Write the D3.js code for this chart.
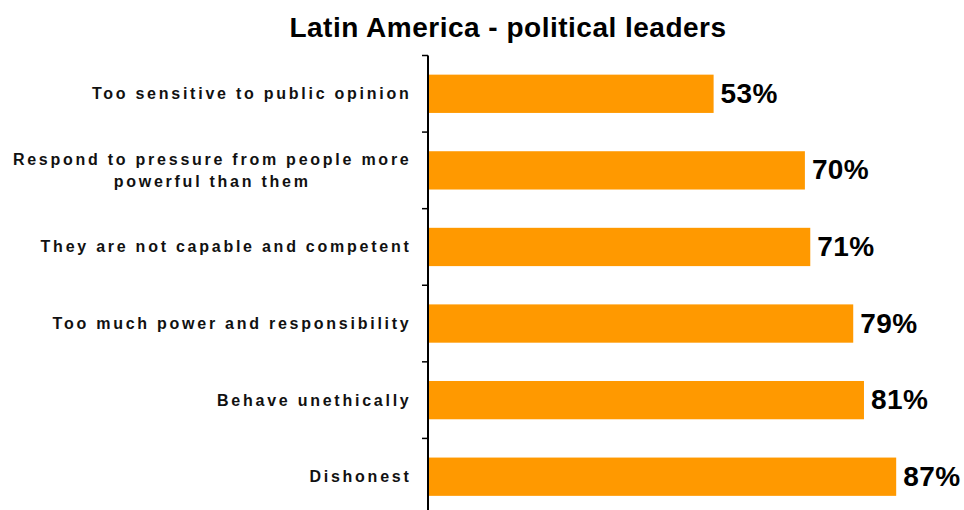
<!DOCTYPE html>
<html>
<head>
<meta charset="utf-8">
<script src="https://cdn.jsdelivr.net/npm/d3@7"></script>
<style>
  html, body { margin: 0; padding: 0; background: #fff; }
  svg { display: block; }
</style>
</head>
<body>
<div id="chart"></div>
<script>
const title = "Latin America - political leaders";
const categories = [
  "Too sensitive to public opinion",
  "Respond to pressure from people more|powerful than them",
  "They are not capable and competent",
  "Too much power and responsibility",
  "Behave unethically",
  "Dishonest"
];
const values = [53, 70, 71, 79, 81, 87];

const W = 964, H = 510;
const svg = d3.select("#chart").append("svg").attr("width", W).attr("height", H);

const x = d3.scaleLinear().domain([0, 100]).range([429, 966]);
const y = d3.scaleBand().domain(categories).range([55.5, 515]).paddingInner(0.5).paddingOuter(0.25);

const FONT = "Liberation Sans, Arial, Helvetica, sans-serif";

// title
svg.append("text")
  .attr("x", 508).attr("y", 37)
  .attr("text-anchor", "middle")
  .attr("font-family", FONT)
  .attr("font-weight", "bold")
  .attr("font-size", 28)
  .attr("letter-spacing", 0.5)
  .attr("fill", "#000")
  .text(title);

// bars
svg.append("g").selectAll("rect").data(categories).join("rect")
  .attr("x", x(0))
  .attr("y", d => y(d))
  .attr("width", (d, i) => x(values[i]) - x(0))
  .attr("height", y.bandwidth())
  .attr("fill", "#FF9900");

// value labels
svg.append("g").selectAll("text").data(categories).join("text")
  .attr("x", (d, i) => x(values[i]) + 7)
  .attr("y", d => y(d) + y.bandwidth() / 2 + 9)
  .attr("font-family", FONT)
  .attr("font-weight", "bold")
  .attr("font-size", 28)
  .attr("letter-spacing", 0.4)
  .attr("fill", "#000")
  .text((d, i) => values[i] + "%");

// axis line and ticks
const axisX = 428;
const step = y.step();
const gap = step - y.bandwidth();
const bounds = categories.map(d => y(d) - gap / 2);
bounds.push(y(categories[categories.length - 1]) + y.bandwidth() + gap / 2);
const ax = svg.append("g");
ax.append("line")
  .attr("x1", axisX).attr("x2", axisX)
  .attr("y1", bounds[0]).attr("y2", bounds[bounds.length - 1])
  .attr("stroke", "#000").attr("stroke-width", 2);
ax.selectAll("line.tick").data(bounds).join("line")
  .attr("class", "tick")
  .attr("x1", axisX - 6).attr("x2", axisX)
  .attr("y1", d => d).attr("y2", d => d)
  .attr("stroke", "#000").attr("stroke-width", 1.5);

// category labels
const lab = svg.append("g");
const LFS = 16, LLS = 2.75, RX = 411.5;
categories.forEach(d => {
  const lines = d.split("|");
  const cy = y(d) + y.bandwidth() / 2;
  const lh = 22;
  const t = lab.append("text")
    .attr("font-family", FONT)
    .attr("font-weight", "bold")
    .attr("font-size", LFS)
    .attr("letter-spacing", LLS)
    .attr("fill", "#111");
  if (lines.length === 1) {
    t.attr("x", RX).attr("y", cy + 5.5).attr("text-anchor", "end").text(lines[0]);
  } else {
    const tmp = lab.append("text")
      .attr("font-family", FONT)
      .attr("font-weight", "bold")
      .attr("font-size", LFS)
      .attr("letter-spacing", LLS)
      .text(lines[0]);
    const w = tmp.node().getComputedTextLength();
    tmp.remove();
    const centerX = RX - w / 2;
    t.attr("text-anchor", "middle");
    lines.forEach((ln, k) => {
      t.append("tspan")
        .attr("x", centerX)
        .attr("y", cy + 5.5 + (k - (lines.length - 1) / 2) * lh)
        .text(ln);
    });
  }
});
</script>
</body>
</html>
